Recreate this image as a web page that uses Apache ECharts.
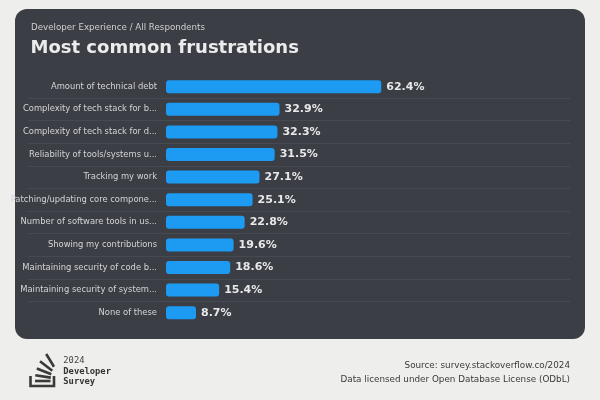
<!DOCTYPE html>
<html>
<head>
<meta charset="utf-8">
<script src="https://cdn.jsdelivr.net/npm/echarts@6/dist/echarts.min.js"></script>
<style>
html,body{margin:0;padding:0;background:#eeeeec;}
#c{width:600px;height:400px;}
</style>
</head>
<body>
<div id="c"></div>
<script>
const categories = [
  "Amount of technical debt",
  "Complexity of tech stack for build",
  "Complexity of tech stack for deployment",
  "Reliability of tools/systems used in work",
  "Tracking my work",
  "Patching/updating core components",
  "Number of software tools in use",
  "Showing my contributions",
  "Maintaining security of code being produced",
  "Maintaining security of systems/platforms used",
  "None of these"
];
const values = [62.4, 32.9, 32.3, 31.5, 27.1, 25.1, 22.8, 19.6, 18.6, 15.4, 8.7];
const subtitle = "Developer Experience / All Respondents";
const title = "Most common frustrations";
const sourceLines = ["Source: survey.stackoverflow.co/2024", "Data licensed under Open Database License (ODbL)"];
const logoLines = ["2024", "Developer", "Survey"];

const FONT = "DejaVu Sans";
const chart = echarts.init(document.getElementById('c'), null, {renderer: 'canvas'});
const ink = '#3a3a3a';
const logoStroke = {stroke: ink, lineWidth: 2.6, lineCap: 'butt'};

chart.setOption({
  backgroundColor: '#eeeeec',
  animation: false,
  graphic: [
    {type: 'rect', z: -10, shape: {x: 15, y: 9, width: 570, height: 330, r: 12}, style: {fill: '#3b3e45'}},
    {type: 'text', z: 10, x: 31, y: 27.5, style: {text: subtitle, font: '8.7px "DejaVu Sans"', fill: '#cfd0d2', textVerticalAlign: 'middle'}},
    {type: 'text', z: 10, x: 30.5, y: 48.5, style: {text: title, font: 'bold 18px "DejaVu Sans"', fill: '#ececec', textVerticalAlign: 'middle'}},
    {type: 'text', z: 10, x: 570, y: 365.7, style: {text: sourceLines[0], font: '8.8px "DejaVu Sans"', fill: '#3a3a3a', textAlign: 'right', textVerticalAlign: 'middle'}},
    {type: 'text', z: 10, x: 570, y: 379.5, style: {text: sourceLines[1], font: '8.8px "DejaVu Sans"', fill: '#3a3a3a', textAlign: 'right', textVerticalAlign: 'middle'}},
    {type: 'text', z: 10, x: 63.3, y: 361, style: {text: logoLines[0], font: '8.8px "DejaVu Sans Mono"', fill: '#444', textVerticalAlign: 'middle'}},
    {type: 'text', z: 10, x: 63.3, y: 371.8, style: {text: logoLines[1], font: 'bold 8.8px "DejaVu Sans Mono"', fill: '#333', textVerticalAlign: 'middle'}},
    {type: 'text', z: 10, x: 63.3, y: 382, style: {text: logoLines[2], font: 'bold 8.8px "DejaVu Sans Mono"', fill: '#333', textVerticalAlign: 'middle'}},
    {type: 'polyline', z: 10, shape: {points: [[30.5, 376], [30.5, 386], [54, 386], [54, 376]]}, style: Object.assign({fill: null}, logoStroke)},
    {type: 'line', z: 10, shape: {x1: 35, y1: 381, x2: 50.5, y2: 381}, style: logoStroke},
    {type: 'line', z: 10, shape: {x1: 35.3, y1: 375.2, x2: 50.8, y2: 377.6}, style: logoStroke},
    {type: 'line', z: 10, shape: {x1: 36.8, y1: 368.5, x2: 51.3, y2: 374.2}, style: logoStroke},
    {type: 'line', z: 10, shape: {x1: 40, y1: 361.2, x2: 52.3, y2: 370.8}, style: logoStroke},
    {type: 'line', z: 10, shape: {x1: 46.2, y1: 354, x2: 54, y2: 366.8}, style: logoStroke}
  ],
  grid: [
    {left: 166, width: 345, top: 75.4, bottom: 76, containLabel: false},
    {left: 28, right: 30, top: 98, bottom: 98.6, containLabel: false}
  ],
  xAxis: [
    {gridIndex: 0, type: 'value', min: 0, max: 100, show: false},
    {gridIndex: 1, type: 'value', min: 0, max: 1, show: false}
  ],
  yAxis: [
    {
      gridIndex: 0, type: 'category', data: categories, inverse: true,
      axisLine: {show: false}, axisTick: {show: false}, splitLine: {show: false},
      axisLabel: {
        margin: 9, color: '#d4d5d7', fontFamily: FONT, fontSize: 8.4,
        formatter: v => v.length > 30 ? v.slice(0, 30) + '...' : v
      }
    },
    {
      gridIndex: 1, type: 'value', min: 0, max: 9, interval: 1,
      axisLine: {show: false}, axisTick: {show: false}, axisLabel: {show: false},
      splitLine: {show: true, lineStyle: {color: '#474a51', width: 1}}
    }
  ],
  series: [{
    type: 'bar',
    xAxisIndex: 0, yAxisIndex: 0,
    data: values,
    barWidth: 13,
    itemStyle: {color: '#1d9bf3', borderColor: '#1d9bf3', borderWidth: 2, borderRadius: 2},
    label: {
      show: true, position: 'right', distance: 5,
      formatter: p => p.value.toFixed(1) + '%',
      color: '#e8e8e8', fontFamily: FONT, fontWeight: 'bold', fontSize: 11
    }
  }]
});
</script>
</body>
</html>
